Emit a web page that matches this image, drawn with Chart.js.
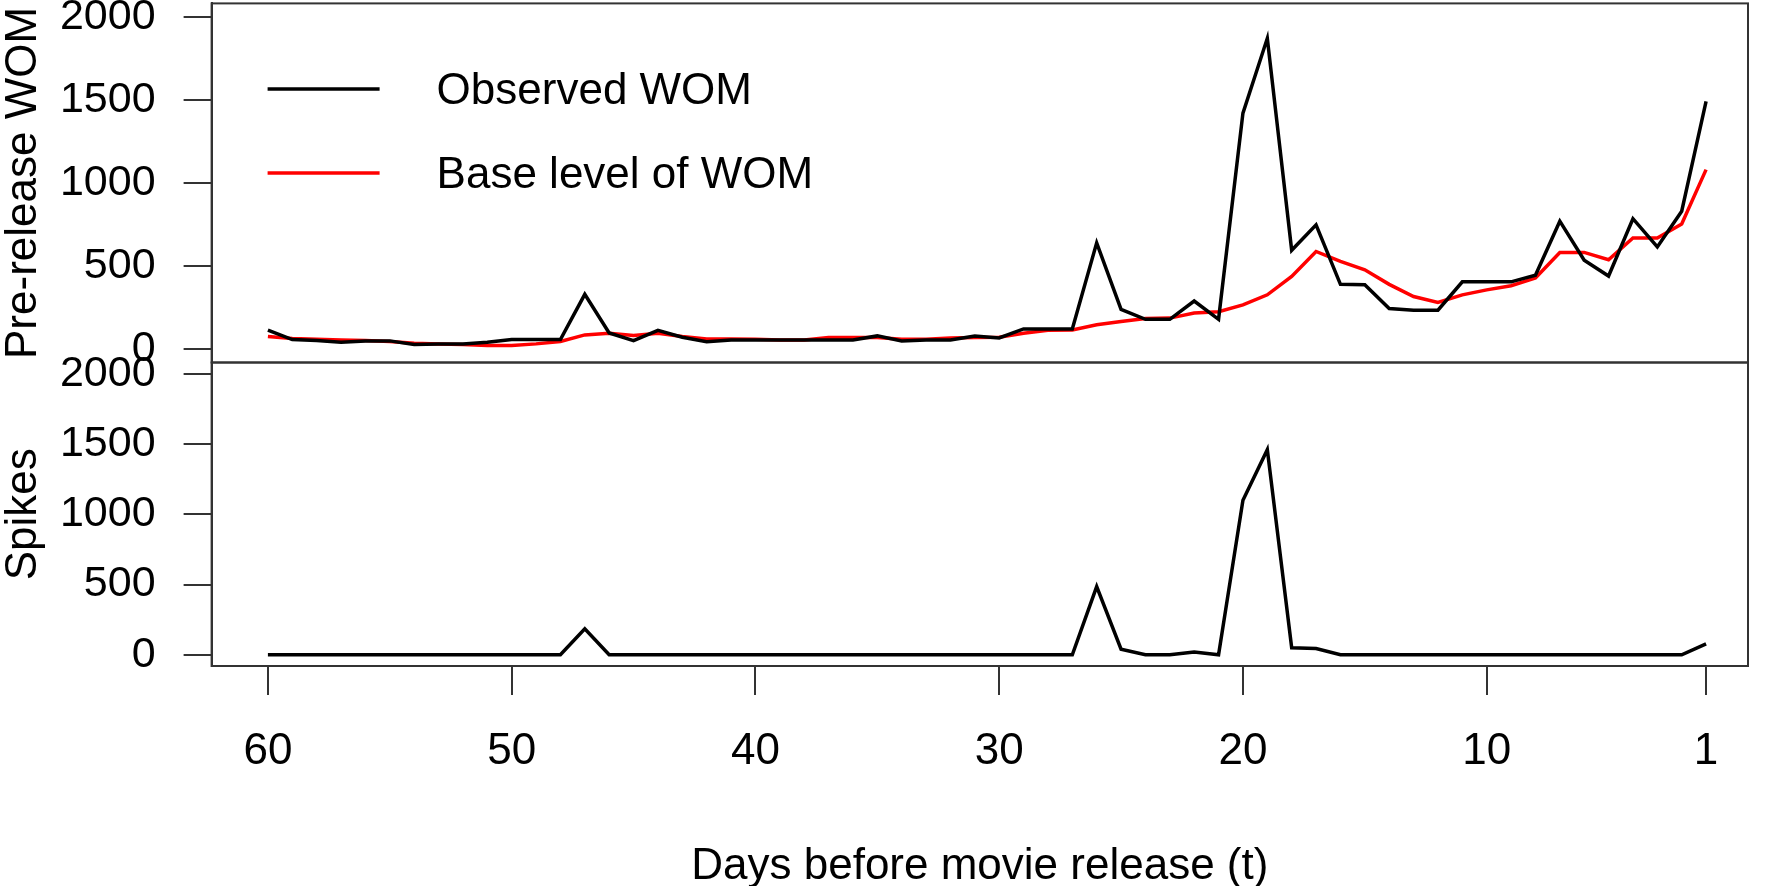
<!DOCTYPE html>
<html>
<head>
<meta charset="utf-8">
<title>Pre-release WOM and spikes</title>
<script src="https://cdn.jsdelivr.net/npm/chart.js@4.4.1/dist/chart.umd.min.js"></script>
<style>
  html, body { margin: 0; padding: 0; background: #fff; }
</style>
</head>
<body>
<canvas id="womChart" width="1765" height="886"></canvas>
<script>
// Days before release, left to right on the plot
const days = [60, 59, 58, 57, 56, 55, 54, 53, 52, 51,
              50, 49, 48, 47, 46, 45, 44, 43, 42, 41,
              40, 39, 38, 37, 36, 35, 34, 33, 32, 31,
              30, 29, 28, 27, 26, 25, 24, 23, 22, 21,
              20, 19, 18, 17, 16, 15, 14, 13, 12, 11,
              10, 9, 8, 7, 6, 5, 4, 3, 2, 1];

// Observed WOM (black, top panel)
const observedWOM = [115, 58, 52, 42, 50, 50, 28, 32, 32, 42,
                     58, 58, 58, 330, 98, 52, 113, 72, 45, 55,
                     55, 55, 55, 55, 55, 80, 50, 55, 55, 80,
                     68, 122, 122, 122, 640, 240, 180, 180, 290, 180,
                     1420, 1870, 595, 748, 390, 388, 245, 235, 235, 405,
                     405, 405, 445, 770, 535, 440, 785, 615, 830, 1490];

// Base level of WOM (red, top panel)
const baseWOM = [76, 64, 60, 56, 52, 46, 36, 32, 28, 22,
                 22, 32, 46, 86, 96, 82, 96, 76, 62, 62,
                 60, 56, 56, 70, 70, 70, 60, 60, 68, 70,
                 72, 96, 114, 116, 147, 167, 185, 187, 218, 225,
                 267, 327, 438, 588, 528, 478, 390, 317, 281, 327,
                 357, 382, 428, 582, 582, 538, 669, 669, 753, 1080];

// Spikes (black, bottom panel)
const spikes = [0, 0, 0, 0, 0, 0, 0, 0, 0, 0,
                0, 0, 0, 185, 0, 0, 0, 0, 0, 0,
                0, 0, 0, 0, 0, 0, 0, 0, 0, 0,
                0, 0, 0, 0, 485, 40, 0, 0, 20, 0,
                1100, 1460, 50, 45, 0, 0, 0, 0, 0, 0,
                0, 0, 0, 0, 0, 0, 0, 0, 0, 78];

const xTickValues = [60, 50, 40, 30, 20, 10, 1];
const yTickValues = [0, 500, 1000, 1500, 2000];

const FONT = "'Liberation Sans', Arial, Helvetica, sans-serif";
const AXIS = '#333333';

Chart.defaults.font.family = FONT;
Chart.defaults.color = '#000000';

const toPoints = values => days.map((d, i) => ({ x: d, y: values[i] }));
const fixedTicks = values => scale => { scale.ticks = values.map(v => ({ value: v })); };

// y axis shared look, one per panel (stacked on the left)
function panelAxis(title, weight) {
    return {
        type: 'linear',
        position: 'left',
        stack: 'panels',
        stackWeight: weight,
        min: -80,
        max: 2080,
        afterBuildTicks: fixedTicks(yTickValues),
        afterFit: s => { s.width = 211.6; s.paddingTop = 0; s.paddingBottom = 0; },
        grid: { drawOnChartArea: false, drawTicks: true, tickLength: 28, color: AXIS, lineWidth: 2 },
        border: { display: true, color: AXIS, width: 2 },
        ticks: { font: { size: 43 }, color: '#000', padding: 28, autoSkip: false, callback: v => String(v) },
        title: { display: true, text: title, color: '#000', font: { size: 44, lineHeight: 1 }, padding: { top: 2, bottom: 0 } }
    };
}

// box round each panel, like R's box()
const panelBoxes = {
    id: 'panelBoxes',
    afterDraw(chart) {
        const { ctx, chartArea } = chart;
        ctx.save();
        ctx.strokeStyle = AXIS;
        ctx.lineWidth = 2;
        ['yWom', 'ySpikes'].forEach(id => {
            const s = chart.scales[id];
            ctx.strokeRect(chartArea.left, s.top, chartArea.right - chartArea.left, s.bottom - s.top);
        });
        ctx.restore();
    }
};

// legend inside the top panel
const womLegend = {
    id: 'womLegend',
    afterDraw(chart) {
        const { ctx, chartArea } = chart;
        const x0 = chartArea.left + 56;
        ctx.save();
        ctx.font = '44px ' + FONT;
        ctx.textBaseline = 'middle';
        [0, 1].forEach(i => {
            const ds = chart.data.datasets[i];
            const y = 89 + i * 84;
            ctx.strokeStyle = ds.borderColor;
            ctx.lineWidth = 3.5;
            ctx.beginPath();
            ctx.moveTo(x0, y);
            ctx.lineTo(x0 + 112, y);
            ctx.stroke();
            ctx.fillStyle = '#000';
            ctx.fillText(ds.label, x0 + 169, y + 3);
        });
        ctx.restore();
    }
};

new Chart(document.getElementById('womChart'), {
    type: 'line',
    data: {
        datasets: [
            { label: 'Observed WOM', data: toPoints(observedWOM), yAxisID: 'yWom',
              borderColor: '#000000', borderWidth: 3.5, pointRadius: 0, tension: 0 },
            { label: 'Base level of WOM', data: toPoints(baseWOM), yAxisID: 'yWom',
              borderColor: '#FF0000', borderWidth: 3.5, pointRadius: 0, tension: 0 },
            { label: 'Spikes', data: toPoints(spikes), yAxisID: 'ySpikes',
              borderColor: '#000000', borderWidth: 3.5, pointRadius: 0, tension: 0 }
        ]
    },
    options: {
        responsive: false,
        animation: false,
        layout: { padding: { top: 3.4, right: 17, bottom: 0, left: 0 } },
        plugins: { legend: { display: false }, tooltip: { enabled: false } },
        scales: {
            x: {
                type: 'linear',
                reverse: true,
                min: -0.72,
                max: 62.31,
                afterBuildTicks: fixedTicks(xTickValues),
                afterFit: s => { s.height = 220; s.paddingLeft = 0; s.paddingRight = 0; },
                grid: { drawOnChartArea: false, drawTicks: true, tickLength: 29, color: AXIS, lineWidth: 2 },
                border: { display: true, color: AXIS, width: 2 },
                ticks: { font: { size: 44 }, color: '#000', padding: 30, maxRotation: 0, autoSkip: false, callback: v => String(v) },
                title: { display: true, text: 'Days before movie release (t)', color: '#000',
                         font: { size: 44, lineHeight: 0.86 }, padding: 0 }
            },
            ySpikes: panelAxis('Spikes', 303.5),
            yWom: panelAxis('Pre-release WOM', 359.1)
        }
    },
    plugins: [panelBoxes, womLegend]
});
</script>
</body>
</html>
